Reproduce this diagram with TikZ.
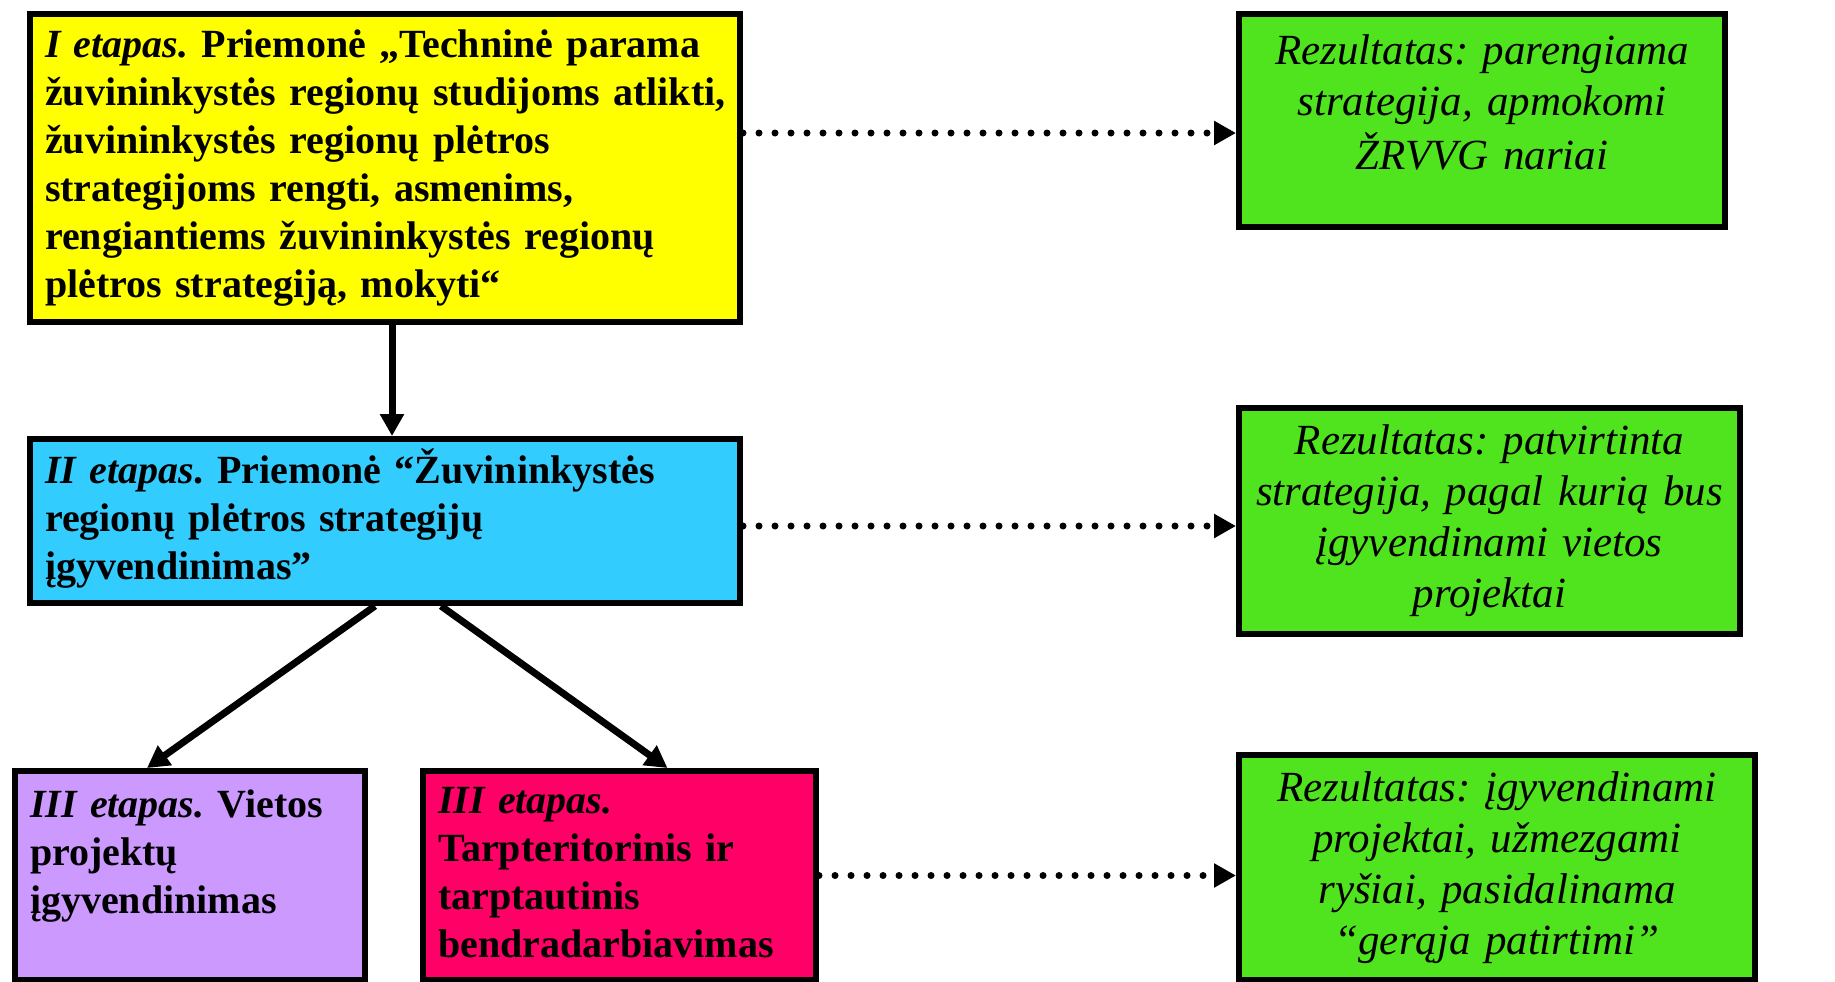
\documentclass[tikz,border=0pt]{standalone}
\usepackage{fontspec}
\setmainfont{Liberation Serif}
\usetikzlibrary{arrows.meta,calc}
\definecolor{cyel}{RGB}{255,255,0}
\definecolor{cblu}{RGB}{51,204,255}
\definecolor{cpur}{RGB}{204,153,255}
\definecolor{cred}{RGB}{255,0,102}
\definecolor{cgrn}{RGB}{80,228,30}
\newcommand\sline[1]{\mbox{\strut#1}}
\frenchspacing
\begin{document}
\begin{tikzpicture}[x=0.5pt,y=-0.5pt,
 stagebox/.style={draw=black,line width=3pt,anchor=north west,inner xsep=7.5pt,inner ysep=0pt,align=left,font=\frenchspacing\fontsize{20pt}{24pt}\selectfont\bfseries},
 resbox/.style={draw=black,line width=3pt,anchor=north west,inner xsep=6pt,inner ysep=0pt,align=center,font=\frenchspacing\fontsize{21.5pt}{25.5pt}\selectfont\itshape},
 solidarrow/.style={line width=3.5pt,-{Triangle[length=11pt,width=11.5pt]}},
 dotarrow/.style={line width=3.5pt,line cap=round,dash pattern=on 0pt off 8pt,-{Triangle[length=11pt,width=11.5pt]}}]
\fill[white] (0,0) rectangle (1835,981);
\useasboundingbox (0,0) rectangle (1835,981);

\node[stagebox,fill=cyel,minimum width=355pt,minimum height=154pt,text width=340pt] (yellow) at (27,11)
 {\sline{\textit{I etapas.} Priemonė „Techninė parama}\\
  \sline{žuvininkystės regionų studijoms atlikti,}\\
  \sline{žuvininkystės regionų plėtros}\\
  \sline{strategijoms rengti, asmenims,}\\
  \sline{rengiantiems žuvininkystės regionų}\\
  \sline{plėtros strategiją, mokyti“}};

\node[stagebox,fill=cblu,minimum width=355pt,minimum height=82pt,text width=340pt] (blue) at (27,436)
 {\sline{\textit{II etapas}. Priemonė “Žuvininkystės}\\
  \sline{regionų plėtros strategijų}\\
  \sline{įgyvendinimas”}};

\node[stagebox,fill=cpur,minimum width=175pt,minimum height=104.5pt,text width=160pt,text depth=74.7pt] (purple) at (12,768)
 {\sline{\textit{III etapas.} Vietos}\\
  \sline{projektų}\\
  \sline{įgyvendinimas}};

\node[stagebox,fill=cred,minimum width=196.5pt,minimum height=104.5pt,text width=181.5pt] (red) at (420,768)
 {\sline{\textit{III etapas.}}\\
  \sline{Tarpteritorinis ir}\\
  \sline{tarptautinis}\\
  \sline{bendradarbiavimas}};

\node[resbox,fill=cgrn,minimum width=243pt,minimum height=106.5pt,text width=231pt,text depth=73.65pt] (green1) at (1236,11)
 {\sline{Rezultatas: parengiama}\\
  \sline{strategija, apmokomi}\\
  \sline{ŽRVVG nariai}};

\node[resbox,fill=cgrn,minimum width=250.5pt,minimum height=113pt,text width=238.5pt] (green2) at (1236,405)
 {\sline{Rezultatas: patvirtinta}\\
  \sline{strategija, pagal kurią bus}\\
  \sline{įgyvendinami vietos}\\
  \sline{projektai}};

\node[resbox,fill=cgrn,minimum width=258pt,minimum height=112.5pt,text width=246pt] (green3) at (1236,752)
 {\sline{Rezultatas: įgyvendinami}\\
  \sline{projektai, užmezgami}\\
  \sline{ryšiai, pasidalinama}\\
  \sline{“gerąja patirtimi”}};

\draw[solidarrow] ($(yellow.south)+(7,0)$) -- ($(blue.north)+(7,0)$);
\draw[solidarrow] ($(blue.south)+(-10,0)$) -- ($(purple.north)+(-43,0)$);
\draw[solidarrow] ($(blue.south)+(56,0)$) -- ($(red.north)+(48,0)$);

\draw[dotarrow] ($(yellow.north east)+(0,122)$) -- ($(green1.north west)+(0,122)$);
\draw[dotarrow] ($(blue.north east)+(0,90)$) -- ($(green2.north west)+(0,121)$);
\draw[dotarrow] (red.east) -- (red.east -| green3.west);
\end{tikzpicture}
\end{document}
